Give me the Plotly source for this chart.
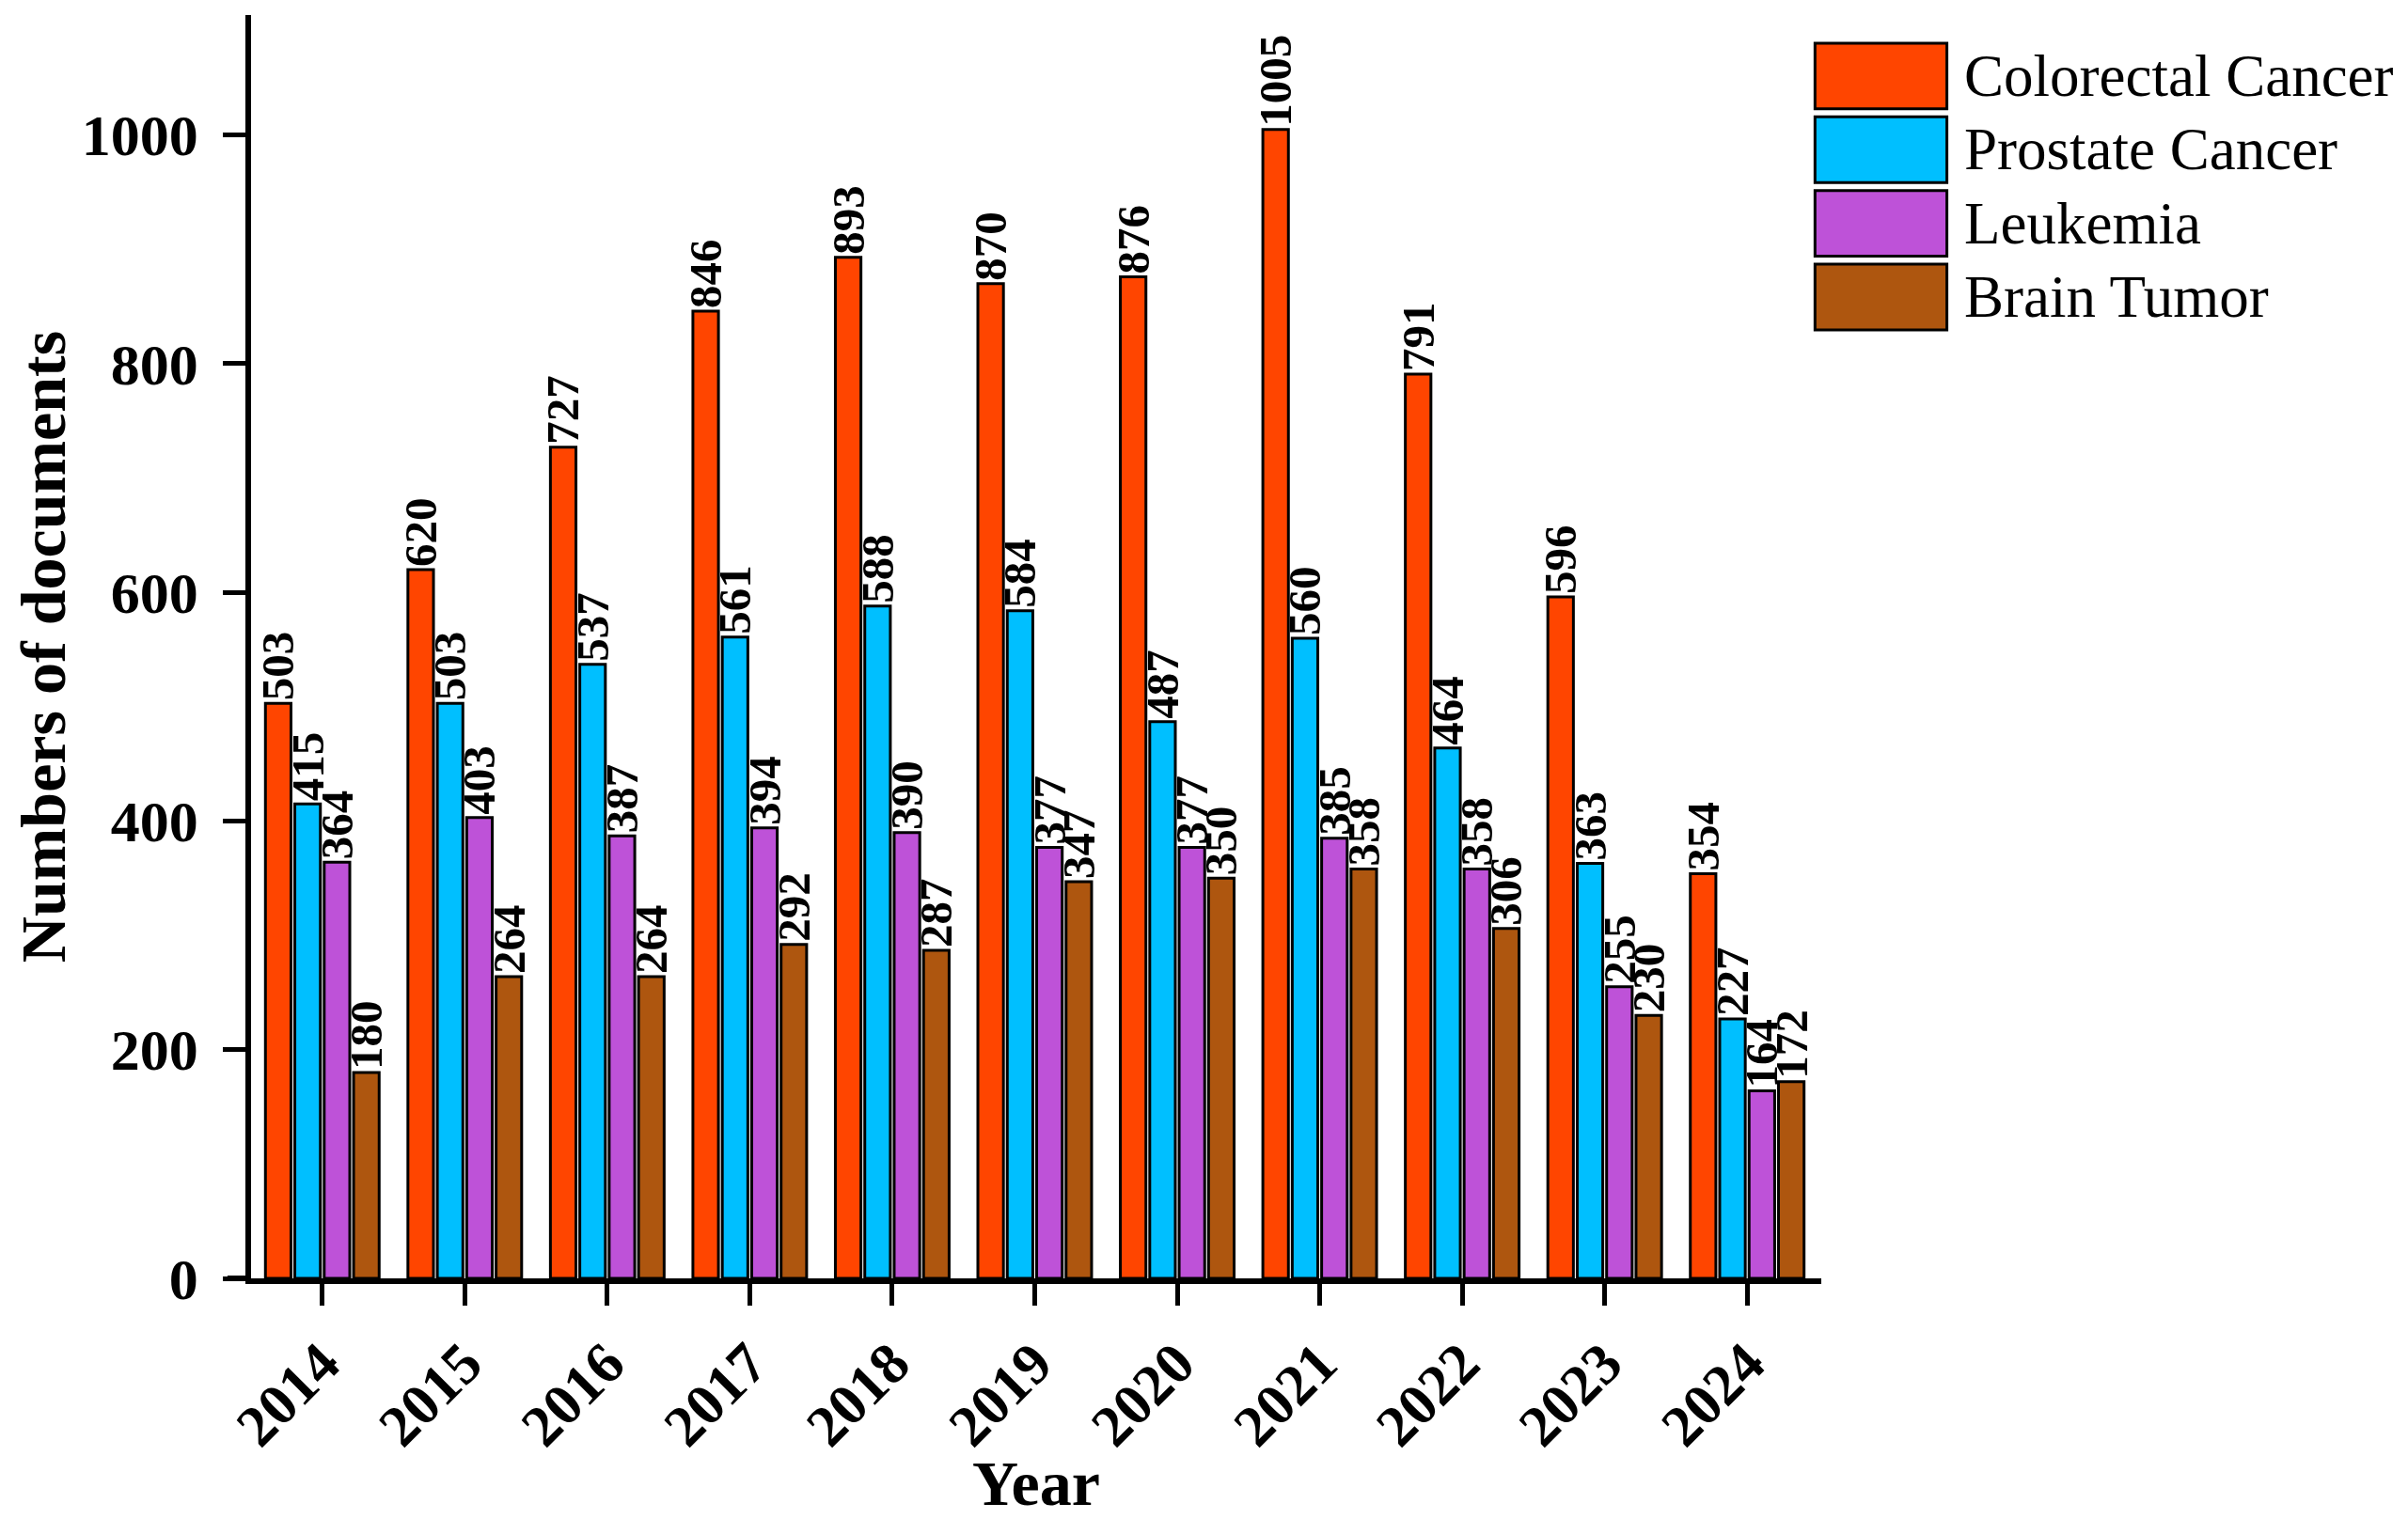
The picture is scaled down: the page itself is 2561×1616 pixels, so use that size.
import plotly.graph_objects as go

years = ["2014", "2015", "2016", "2017", "2018", "2019", "2020", "2021", "2022", "2023", "2024"]
colorectal = [503, 620, 727, 846, 893, 870, 876, 1005, 791, 596, 354]
prostate = [415, 503, 537, 561, 588, 584, 487, 560, 464, 363, 227]
leukemia = [364, 403, 387, 394, 390, 377, 377, 385, 358, 255, 164]
brain = [180, 264, 264, 292, 287, 347, 350, 358, 306, 230, 172]

names = ["Colorectal Cancer", "Prostate Cancer", "Leukemia", "Brain Tumor"]
colors = ["#FF4500", "#00BFFF", "#BE52D8", "#AE560F"]
series = [colorectal, prostate, leukemia, brain]

FONT = "Liberation Serif, Times New Roman, serif"

fig = go.Figure()
for name, vals, col in zip(names, series, colors):
    fig.add_trace(
        go.Bar(
            x=years,
            y=vals,
            name=name,
            marker=dict(color=col, line=dict(color="black", width=3)),
            text=[str(v) for v in vals],
            textposition="outside",
            textangle=-90,
            constraintext="none",
            cliponaxis=False,
            textfont=dict(family=FONT, size=49, color="black", weight="bold"),
            showlegend=False,
        )
    )

# legend drawn by hand so the swatches can be as large as in the original
box_x0, box_x1, text_x = 0.996, 1.080, 1.090
top, h, pitch = 0.9777, 0.052, 0.0583
for i, (name, col) in enumerate(zip(names, colors)):
    y1 = top - i * pitch
    y0 = y1 - h
    fig.add_shape(
        type="rect", xref="paper", yref="paper",
        x0=box_x0, x1=box_x1, y0=y0, y1=y1,
        fillcolor=col, line=dict(color="black", width=3),
    )
    fig.add_annotation(
        xref="paper", yref="paper", x=text_x, y=(y0 + y1) / 2,
        text=name, showarrow=False, xanchor="left", yanchor="middle",
        font=dict(family=FONT, size=63, color="black"),
    )

# x axis line runs a little past the y axis on the left
fig.add_shape(
    type="line", xref="paper", yref="y", x0=-0.015, x1=0, y0=0, y1=0,
    line=dict(color="black", width=6),
)

# page body has an 8px margin, so the figure is 8px smaller than the window
fig.update_layout(
    width=2553,
    height=1608,
    margin=dict(l=259, r=624, t=8, b=256),
    paper_bgcolor="white",
    plot_bgcolor="white",
    barmode="group",
    bargap=0.175,
    bargroupgap=0.13,
    font=dict(family=FONT, color="black"),
)
fig.update_xaxes(
    range=[-0.50, 10.52],
    showline=True, linecolor="black", linewidth=6,
    ticks="outside", ticklen=23, tickwidth=5, tickcolor="black",
    tickangle=-45,
    tickfont=dict(family=FONT, size=62, color="black", weight="bold"),
    title=dict(text="Year", font=dict(family=FONT, size=68, color="black", weight="bold"), standoff=10),
    showgrid=False,
)
fig.update_yaxes(
    range=[0, 1105],
    dtick=200,
    showline=True, linecolor="black", linewidth=5.5,
    ticks="outside", ticklen=24, tickwidth=5, tickcolor="black",
    ticklabelstandoff=14,
    tickfont=dict(family=FONT, size=62, color="black", weight="bold"),
    title=dict(text="Numbers of documents", font=dict(family=FONT, size=68, color="black", weight="bold"), standoff=22),
    showgrid=False,
    zeroline=False,
)

fig.write_html("out.html")
